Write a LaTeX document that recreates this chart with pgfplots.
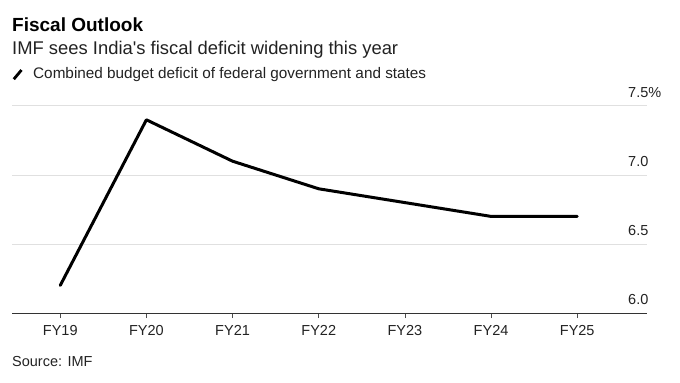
\documentclass[border=0pt]{standalone}
\usepackage{pgfplots}
\pgfplotsset{compat=1.18}
\usepackage{fontspec}
\setmainfont{Liberation Sans}
\definecolor{gridc}{HTML}{E0E0E0}
\definecolor{txt}{HTML}{222222}
\begin{document}
\begin{tikzpicture}[x=1bp,y=1bp]
\path[use as bounding box] (0,0) rectangle (680,382);
% titles
\node[anchor=base west, inner sep=0pt, font=\fontsize{19bp}{21bp}\selectfont\bfseries] at (12,351) {Fiscal Outlook};
\node[anchor=base west, inner sep=0pt, font=\fontsize{18.4bp}{20bp}\selectfont, text=txt] at (12,328) {IMF sees India\textquotesingle s fiscal deficit widening this year};
\draw[line width=2.8bp, black] (13.8,302.8) -- (21.5,312);
\node[anchor=base west, inner sep=0pt, font=\fontsize{15.3bp}{17bp}\selectfont, text=txt] at (33,304) {Combined budget deficit of federal government and states};
\node[anchor=base west, inner sep=0pt, font=\fontsize{14.5bp}{16bp}\selectfont, text=txt] at (12,16) {Source: IMF};
\begin{axis}[
  at={(12bp,69bp)}, anchor=south west,
  scale only axis, width=635bp, height=207bp,
  xmin=-0.56, xmax=6.81, ymin=6, ymax=7.5,
  axis x line=bottom, axis y line=right,
  x axis line style={-, color=black!80, line width=1bp},
  y axis line style={draw=none},
  xtick={0,1,2,3,4,5,6},
  xticklabels={FY19,FY20,FY21,FY22,FY23,FY24,FY25},
  ytick={6,6.5,7,7.5},
  yticklabels={6.0,6.5,7.0,7.5\%},
  tick align=outside,
  major tick length=5bp,
  xtick style={color=black!70, line width=0.8bp},
  ytick style={draw=none},
  ymajorgrids, grid style={gridc, line width=1bp},
  tick label style={font=\fontsize{14.5bp}{16bp}\selectfont, text=txt},
  xticklabel style={anchor=north, inner sep=0pt, yshift=-7bp},
  yticklabel style={anchor=south west, inner sep=0pt, xshift=-24bp, yshift=8bp},
  clip=false,
]
\addplot[black, line width=3bp, line join=round, line cap=round] coordinates {
  (0,6.2) (1,7.4) (2,7.1) (3,6.9) (4,6.8) (5,6.7) (6,6.7)
};
\end{axis}
\end{tikzpicture}
\end{document}
